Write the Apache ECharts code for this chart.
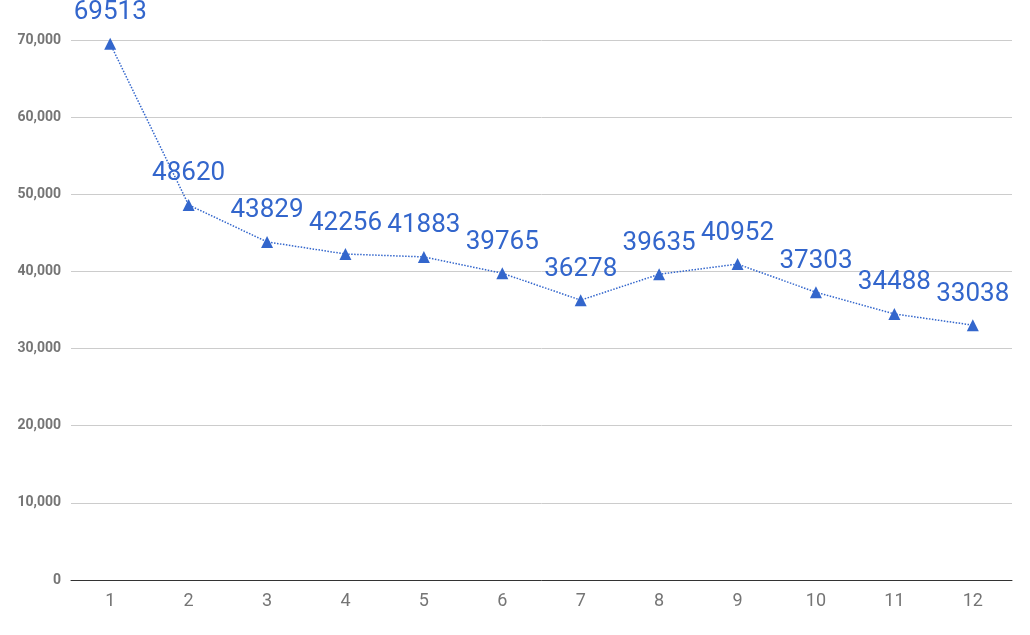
<!DOCTYPE html>
<html>
<head>
<meta charset="utf-8">
<script src="https://cdn.jsdelivr.net/npm/echarts@6/dist/echarts.min.js"></script>
<style>html,body{margin:0;padding:0;background:#fff}#chart{width:1030px;height:635px}</style>
</head>
<body>
<div id="chart"></div>
<script>
var categories = ['1','2','3','4','5','6','7','8','9','10','11','12'];
var values = [69513, 48620, 43829, 42256, 41883, 39765, 36278, 39635, 40952, 37303, 34488, 33038];
var yTicks = { min: 0, max: 70000, interval: 10000 };

var chart = echarts.init(document.getElementById('chart'));
chart.setOption({
    animation: false,
    grid: { left: 71, right: 18, top: 40, bottom: 55 },
    xAxis: {
        type: 'category',
        data: categories,
        boundaryGap: true,
        axisLine: { lineStyle: { color: '#333', width: 1 } },
        axisTick: { show: false },
        axisLabel: { color: '#757575', fontSize: 18, fontFamily: 'Roboto', margin: 12 }
    },
    yAxis: {
        type: 'value',
        min: yTicks.min, max: yTicks.max, interval: yTicks.interval,
        axisLine: { show: false },
        axisTick: { show: false },
        splitLine: { lineStyle: { color: '#cccccc' } },
        axisLabel: { color: '#757575', fontSize: 14, fontWeight: 'bold', fontFamily: 'Roboto', margin: 10 }
    },
    series: [{
        type: 'line',
        data: values,
        symbol: 'triangle',
        symbolSize: 12,
        itemStyle: { color: '#3366cc' },
        lineStyle: { color: '#3366cc', width: 1.5, type: 'dotted' },
        label: {
            show: true,
            position: 'top',
            distance: 12,
            color: '#3366cc',
            fontSize: 26,
            fontFamily: 'Roboto'
        }
    }]
});
</script>
</body>
</html>
